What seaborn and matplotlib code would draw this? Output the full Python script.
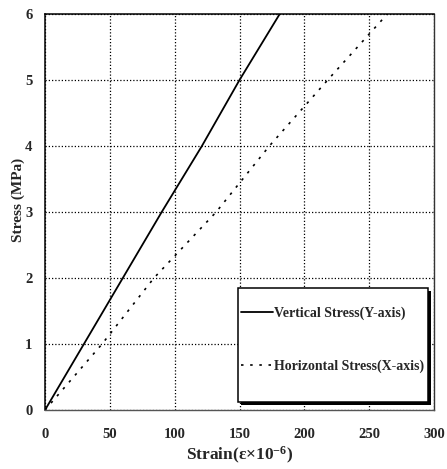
import matplotlib
matplotlib.use("Agg")
import matplotlib.pyplot as plt
from matplotlib.patches import Rectangle
from matplotlib.transforms import ScaledTranslation
import seaborn as sns
import pandas as pd

# Stress levels (MPa) and measured strains (x10^-6)
stress = [0, 1, 2, 3, 4, 5, 6]
strain_vertical = [0, 30, 60, 90, 121, 150, 181]
strain_horizontal = [0, 44, 84, 132, 173, 218, 264]

x_ticks = [0, 50, 100, 150, 200, 250, 300]
y_ticks = [0, 1, 2, 3, 4, 5, 6]

label_v = "Vertical Stress(Y-axis)"
label_h = "Horizontal Stress(X-axis)"

sns.set_style("white")
plt.rcParams["font.family"] = ["Liberation Serif", "DejaVu Serif"]
plt.rcParams["font.weight"] = "bold"
plt.rcParams["mathtext.fontset"] = "custom"
plt.rcParams["mathtext.rm"] = "Liberation Serif:bold"
plt.rcParams["mathtext.it"] = "Liberation Serif:bold"
plt.rcParams["mathtext.bf"] = "Liberation Serif:bold"

df_v = pd.DataFrame({"strain": strain_vertical, "stress": stress})
df_h = pd.DataFrame({"strain": strain_horizontal, "stress": stress})

fig = plt.figure(figsize=(4.47, 4.69), dpi=100)
ax = fig.add_axes([0.1007, 0.1258, 0.8703, 0.8444])

sns.lineplot(data=df_v, x="strain", y="stress", ax=ax, color="black",
             linewidth=1.3, sort=False, estimator=None, label=label_v)
sns.lineplot(data=df_h, x="strain", y="stress", ax=ax, color="black",
             linewidth=1.2, sort=False, estimator=None, label=label_h,
             linestyle=(0, (1.5, 4)))

ax.set_xlim(0, 300)
ax.set_ylim(0, 6)
ax.set_xticks(x_ticks)
ax.set_yticks(y_ticks)
ax.set_xticklabels([str(t) for t in x_ticks], fontsize=10.5, fontweight="bold")
ax.set_yticklabels([str(t) for t in y_ticks], fontsize=10.5, fontweight="bold")
ax.tick_params(axis="both", direction="inout", length=6, width=0.9,
               color="black")
ax.tick_params(axis="x", pad=10)
ax.tick_params(axis="y", pad=6)

ax.grid(True, color="black", linestyle=(0, (1, 1.6)), linewidth=0.9)
ax.set_axisbelow(True)

for side in ["left", "top"]:
    ax.spines[side].set_color("black")
    ax.spines[side].set_linewidth(1.1)
ax.spines["right"].set_color("#333333")
ax.spines["right"].set_linewidth(1.0)
ax.spines["right"].set_linestyle((0, (3, 1)))
ax.spines["bottom"].set_color("#555555")
ax.spines["bottom"].set_linewidth(1.0)

ax.set_xlabel(r"Strain($\varepsilon$×10$^{-6}$)", fontsize=12.5,
              fontweight="bold", labelpad=3)
ax.set_ylabel("Stress (MPa)", fontsize=11, fontweight="bold")
ax.yaxis.set_label_coords(-0.052, 0.53)

# Legend box with a solid drop shadow
box_xy, box_w, box_h = (0.496, 0.02), 0.489, 0.288
shadow_tf = ax.transAxes + ScaledTranslation(3 / 100, -3 / 100,
                                             fig.dpi_scale_trans)
ax.add_patch(Rectangle(box_xy, box_w, box_h, transform=shadow_tf,
                       facecolor="black", edgecolor="none", zorder=4.9,
                       clip_on=False))
ax.add_patch(Rectangle(box_xy, box_w, box_h, transform=ax.transAxes,
                       facecolor="white", edgecolor="black", linewidth=1.1,
                       zorder=5, clip_on=False))

leg = ax.legend(loc="center left", bbox_to_anchor=(0.503, 0.177),
                fontsize=10, frameon=False, borderpad=0.0,
                labelspacing=2.85, handlelength=2.3, handletextpad=0.12,
                borderaxespad=0.0)
leg.set_zorder(6)
for t in leg.get_texts():
    t.set_fontweight("bold")

fig.savefig("out.png", dpi=100)
